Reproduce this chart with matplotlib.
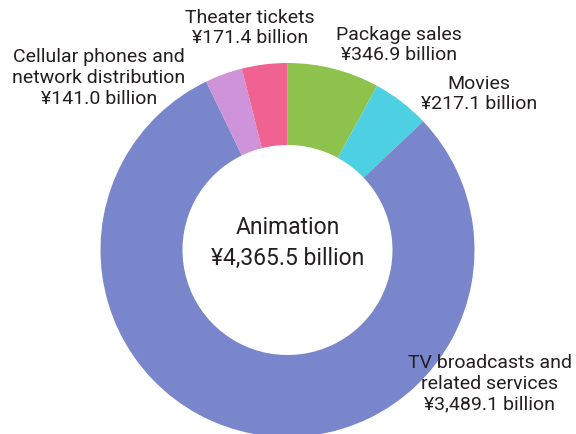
import matplotlib
matplotlib.use("Agg")
import matplotlib.pyplot as plt

# segment data, clockwise from 12 o'clock
labels = ["Package sales", "Movies", "TV broadcasts and\nrelated services",
          "Cellular phones and\nnetwork distribution", "Theater tickets"]
values = [346.9, 217.1, 3489.1, 141.0, 171.4]
colors = ["#8DC24C", "#4DD0E1", "#7986CB", "#CE93D8", "#F06292"]
total_label = "Animation\n¥4,365.5 billion"

plt.rcParams["font.family"] = ["Roboto", "DejaVu Sans"]
txt = "#231f20"

fig = plt.figure(figsize=(5.76, 4.34), dpi=100)
ax = fig.add_axes([0, 0, 1, 1])

ax.pie(values, colors=colors, startangle=90, counterclock=False,
       center=(287.5, 434 - 250), radius=187, frame=True,
       wedgeprops=dict(width=82, edgecolor="none"))
ax.set_xlim(0, 576)
ax.set_ylim(0, 434)
ax.set_aspect("equal")
ax.axis("off")

# label positions in pixels (x, y from top)
label_pos = [(399, 45), (479, 94), (490, 384), (99, 78), (250, 28)]
for lab, val, (x, y) in zip(labels, values, label_pos):
    ax.text(x, 434 - y, f"{lab}\n¥{val:,.1f} billion", ha="center", va="center",
            multialignment="center", fontsize=14, color=txt, linespacing=1.2)

ax.text(287.5, 434 - 243, total_label, ha="center", va="center",
        multialignment="center", fontsize=16.5, color=txt, linespacing=1.4)

fig.savefig("out.png", dpi=100)
